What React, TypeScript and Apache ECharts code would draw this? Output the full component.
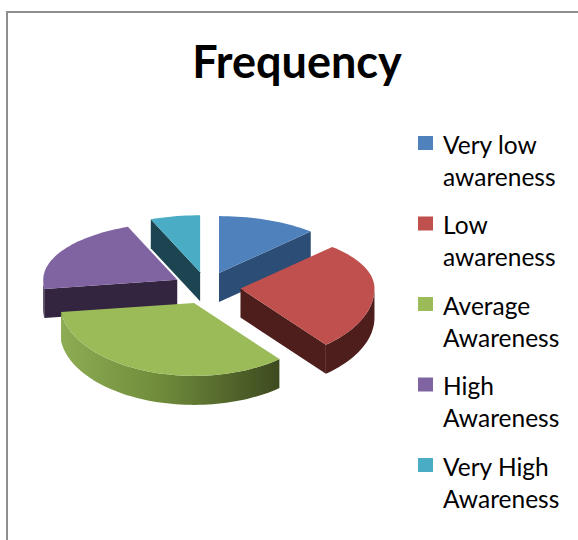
import React, { useEffect, useRef } from "react";
import * as echarts from "echarts";

const titleText = "Frequency";
const categories = [
  "Very low\nawareness",
  "Low\nawareness",
  "Average\nAwareness",
  "High\nAwareness",
  "Very High\nAwareness",
];
const values = [12, 27, 34, 21, 6];
const topColors = ["#4f81bd", "#c0504d", "#9bbb59", "#8064a2", "#4bacc6"];
const wallColors = ["#2c4d75", "#4d1e1c", "#5f7a33", "#33243f", "#1d4551"];
const drawOrder = [2, 4, 5, 3, 1];

const CX = 206.5;
const CY = 288;
const RX = 134;
const RY_BACK = 57;
const RY_FRONT = 73;
const DEPTH = 29;
const EX = 34;
const EY = 16;
const FONT = "Lato, 'Open Sans', sans-serif";

const total = values.reduce((a, b) => a + b, 0);
const rad = (d: number) => (d * Math.PI) / 180;

function sliceAngles(i: number) {
  const before = values.slice(0, i).reduce((a, b) => a + b, 0);
  return { a: (before / total) * 360, b: ((before + values[i]) / total) * 360 };
}

function rim(ax: number, ay: number, deg: number, dz = 0): number[] {
  const c = Math.cos(rad(deg));
  const ry = c >= 0 ? RY_BACK : RY_FRONT;
  return [ax + RX * Math.sin(rad(deg)), ay - ry * c + dz];
}

function arcPoints(ax: number, ay: number, from: number, to: number, dz = 0) {
  const pts: number[][] = [];
  const n = Math.max(2, Math.ceil((to - from) / 2));
  for (let k = 0; k <= n; k++) pts.push(rim(ax, ay, from + ((to - from) * k) / n, dz));
  return pts;
}

function renderSlice(i: number) {
  const { a, b } = sliceAngles(i);
  const mid = rad((a + b) / 2);
  const ax = CX + EX * Math.sin(mid);
  const ay = CY - EY * Math.cos(mid);
  const children: any[] = [];
  const wall = (points: number[][], fill: any) =>
    children.push({ type: "polygon", shape: { points }, style: { fill } });

  const edge = (deg: number) => {
    const p = rim(ax, ay, deg);
    wall(
      [
        [ax, ay],
        p,
        [p[0], p[1] + DEPTH],
        [ax, ay + DEPTH],
      ],
      wallColors[i],
    );
  };
  if (Math.sin(rad(a)) < -0.001) edge(a);
  if (Math.sin(rad(b)) > 0.001) edge(b);

  const from = Math.max(a, 90);
  const to = Math.min(b, 270);
  if (to > from) {
    const upper = arcPoints(ax, ay, from, to);
    const lower = arcPoints(ax, ay, from, to, DEPTH).reverse();
    const fill =
      i === 2
        ? new echarts.graphic.LinearGradient(0, 0, 1, 0, [
            { offset: 0, color: "#8dac53" },
            { offset: 0.45, color: "#708c3b" },
            { offset: 1, color: "#3d4a1f" },
          ])
        : wallColors[i];
    wall(upper.concat(lower), fill);
  }

  children.push({
    type: "polygon",
    shape: { points: [[ax, ay], ...arcPoints(ax, ay, a, b)] },
    style: { fill: topColors[i] },
  });
  return { type: "group", children };
}

export default function App() {
  const ref = useRef<HTMLDivElement>(null);
  useEffect(() => {
    document.body.style.margin = "0";
    const chart = echarts.init(ref.current!, undefined, { renderer: "svg" });
    chart.setOption({
      animation: false,
      backgroundColor: "#ffffff",
      title: {
        text: titleText,
        left: 292,
        top: 33,
        textAlign: "center",
        textStyle: { fontFamily: FONT, fontWeight: "bold", fontSize: 45, color: "#000000" },
      },
      legend: {
        orient: "vertical",
        left: 413,
        top: 123,
        itemGap: 16.5,
        itemWidth: 20,
        itemHeight: 64,
        icon: "path://M0 8H15V22H0Z M0 0H20 M0 64H20",
        data: categories,
        selectedMode: false,
        textStyle: { fontFamily: FONT, fontSize: 24.5, lineHeight: 32, color: "#000000" },
      },
      graphic: [
        {
          type: "polyline",
          shape: {
            points: [
              [7, 540],
              [7, 12],
              [578, 12],
            ],
          },
          style: { stroke: "#8e8e8e", lineWidth: 2, fill: "none" },
          silent: true,
        },
      ],
      series: categories.map((name, i) => ({
        type: "custom",
        name,
        coordinateSystem: "none",
        z: drawOrder[i],
        silent: true,
        itemStyle: { color: topColors[i] },
        data: [values[i]],
        renderItem: () => renderSlice(i),
      })),
    });
    return () => chart.dispose();
  }, []);
  return <div ref={ref} style={{ width: 578, height: 540 }} />;
}
